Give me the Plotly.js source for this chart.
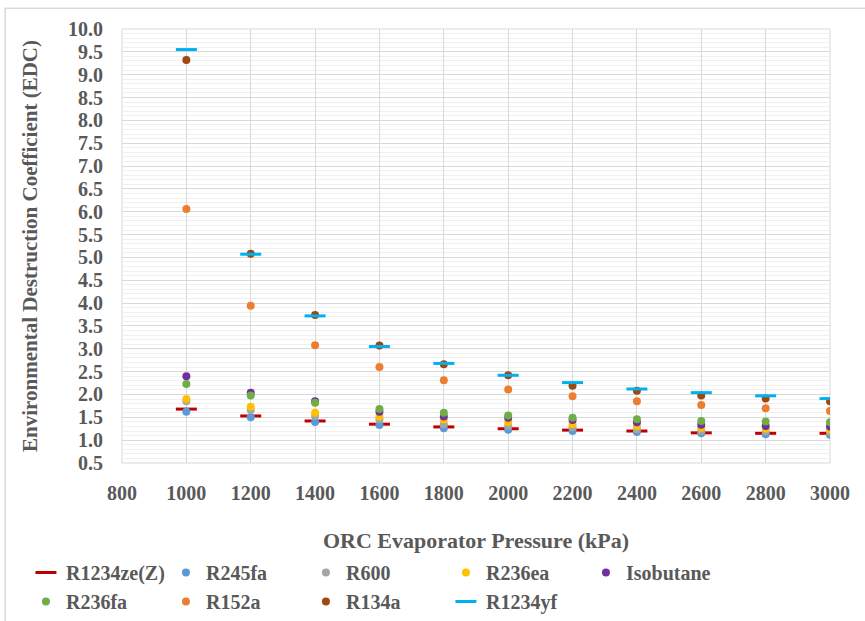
<!DOCTYPE html>
<html>
<head>
<meta charset="utf-8">
<script src="https://cdn.plot.ly/plotly-3.0.1.min.js"></script>
<style>html,body{margin:0;padding:0;background:#fff;}#chart{width:865px;height:621px;}</style>
</head>
<body>
<div id="chart"></div>
<script>
const pressure = [1000, 1200, 1400, 1600, 1800, 2000, 2200, 2400, 2600, 2800, 3000];
const R1234zeZ = [1.68, 1.53, 1.42, 1.35, 1.29, 1.25, 1.22, 1.20, 1.16, 1.15, 1.15];
const R245fa   = [1.62, 1.50, 1.40, 1.33, 1.26, 1.23, 1.20, 1.18, 1.15, 1.13, 1.12];
const R600     = [1.85, 1.66, 1.53, 1.46, 1.35, 1.31, 1.28, 1.24, 1.20, 1.19, 1.18];
const R236ea   = [1.90, 1.73, 1.60, 1.52, 1.45, 1.40, 1.35, 1.31, 1.27, 1.25, 1.23];
const Isobutane= [2.40, 2.04, 1.85, 1.62, 1.52, 1.49, 1.44, 1.39, 1.34, 1.31, 1.30];
const R236fa   = [2.23, 1.98, 1.82, 1.68, 1.60, 1.54, 1.49, 1.46, 1.42, 1.41, 1.39];
const R152a    = [6.06, 3.94, 3.08, 2.60, 2.31, 2.11, 1.96, 1.85, 1.77, 1.70, 1.64];
const R134a    = [9.32, 5.08, 3.74, 3.07, 2.66, 2.42, 2.19, 2.08, 1.98, 1.91, 1.85];
const R1234yf  = [9.55, 5.07, 3.72, 3.05, 2.68, 2.42, 2.26, 2.12, 2.04, 1.97, 1.91];

const seriesNames = ["R1234ze(Z)", "R245fa", "R600", "R236ea", "Isobutane", "R236fa", "R152a", "R134a", "R1234yf"];
const seriesData = [R1234zeZ, R245fa, R600, R236ea, Isobutane, R236fa, R152a, R134a, R1234yf];
const seriesColors = ["#C00000", "#5B9BD5", "#A5A5A5", "#FFC000", "#7030A0", "#70AD47", "#ED7D31", "#9E480E", "#00B0F0"];
const seriesDash = [true, false, false, false, false, false, false, false, true];

const traces = seriesNames.map((n, i) => ({
  x: pressure, y: seriesData[i], name: n, type: 'scatter', mode: 'markers',
  marker: seriesDash[i]
    ? {symbol: 'line-ew', size: 15, color: seriesColors[i], line: {color: seriesColors[i], width: 3}}
    : {symbol: 'circle', size: 8, color: seriesColors[i], line: {width: 0}}
}));

const FAM = 'Liberation Serif, Times New Roman, serif';
const TXT = '#595959';

const layout = {
  width: 865, height: 621,
  margin: {l: 122, r: 35, t: 29, b: 158},
  paper_bgcolor: '#fff', plot_bgcolor: '#fff',
  font: {family: FAM, color: TXT},
  showlegend: true,
  xaxis: {
    range: [800, 3000], tickvals: [800,1000,1200,1400,1600,1800,2000,2200,2400,2600,2800,3000],
    ticktext: ['800','1000','1200','1400','1600','1800','2000','2200','2400','2600','2800','3000'],
    showgrid: true, gridcolor: '#D9D9D9', gridwidth: 1, zeroline: false,
    showline: false, ticks: '', ticklabelstandoff: 16, automargin: false,
    tickfont: {family: FAM, size: 20, color: TXT, weight: 'bold'},
    title: {text: 'ORC Evaporator Pressure (kPa)', standoff: 60,
      font: {family: FAM, size: 22, color: TXT, weight: 'bold'}}
  },
  yaxis: {
    range: [0.5, 10.0], tick0: 0.5, dtick: 0.5, tickformat: '.1f',
    showgrid: true, gridcolor: '#D9D9D9', gridwidth: 1, zeroline: false,
    showline: false, ticks: '', ticklabelstandoff: 18, automargin: false,
    minor: {dtick: 0.1, showgrid: true, gridcolor: '#F0F0F0', gridwidth: 1},
    tickfont: {family: FAM, size: 20, color: TXT, weight: 'bold'},
    title: {text: 'Environmental Destruction Coefficient (EDC)', standoff: 24,
      font: {family: FAM, size: 21, color: TXT, weight: 'bold'}}
  },
  legend: {
    orientation: 'h', xref: 'container', yref: 'container',
    x: 0.03, xanchor: 'left', y: 0.0, yanchor: 'bottom',
    entrywidth: 95, entrywidthmode: 'pixels', tracegroupgap: 0, itemwidth: 30,
    font: {family: FAM, size: 20, color: TXT, weight: 'bold'}
  },
  shapes: [
    {type: 'rect', xref: 'paper', yref: 'paper', x0: -0.165, x1: 1.06, y0: -0.4, y1: 1.048,
     line: {color: '#D9D9D9', width: 1.5}, fillcolor: 'rgba(0,0,0,0)', layer: 'below'},
    {type: 'rect', xref: 'paper', yref: 'paper', x0: 0, x1: 1, y0: 0, y1: 1,
     line: {color: '#D9D9D9', width: 1}, fillcolor: 'rgba(0,0,0,0)', layer: 'below'}
  ]
};

Plotly.newPlot('chart', traces, layout, {displayModeBar: false, staticPlot: true});
</script>
</body>
</html>
